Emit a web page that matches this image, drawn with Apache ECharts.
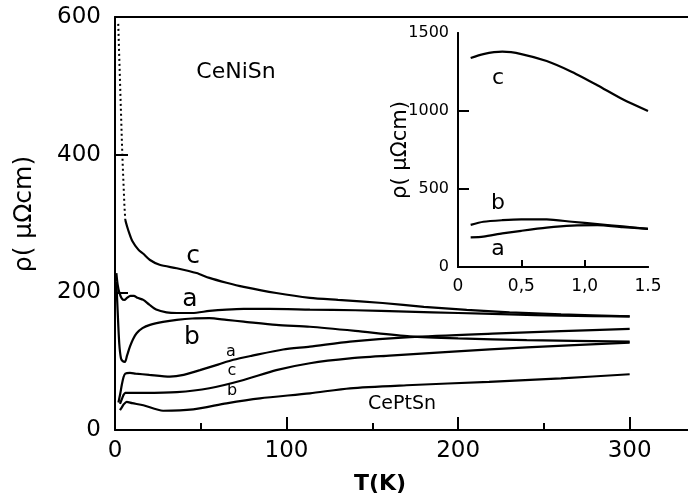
<!DOCTYPE html>
<html>
<head>
<meta charset="utf-8">
<script src="https://cdn.jsdelivr.net/npm/echarts@6/dist/echarts.min.js"></script>
<style>html,body{margin:0;padding:0;background:#fff}#c{width:688px;height:500px}</style>
</head>
<body>
<div id="c"></div>
<script>
// ---- Main panel data: T (K) and resistivity (µΩcm) ----
var cSpikeT = [1.9, 2.5, 3, 3.5, 4, 4.5, 5, 5.5, 6];
var cSpikeR = [590, 540, 500, 460, 420, 385, 355, 325, 305];

var niCT = [6, 7, 8.3, 10, 13.6, 16.5, 20.4, 26, 36, 47.5, 55, 65, 75, 94, 113.6, 130, 156, 180, 205, 230, 260, 300];
var niCR = [305, 296, 286, 275, 262, 256, 247, 240, 235, 228, 221, 214, 208, 199, 192, 189, 184.5, 179, 174.5, 171, 168, 165];

var niAT = [0.8, 1.5, 2.5, 4, 5.5, 7, 9, 11, 13, 16.5, 20, 24, 30, 36, 45, 55, 65, 75, 90, 113.6, 140, 170, 200, 230, 260, 300];
var niAR = [228, 212, 200, 191, 189, 192, 195, 195, 192, 189, 182, 175, 171, 170, 170, 173, 175, 176, 176, 175, 174, 172, 170, 168, 166, 165];

var niBT = [0.8, 1.5, 2.5, 3.5, 4.5, 5.8, 7, 8.7, 10.5, 12.6, 16, 20.4, 28, 36, 45, 55, 65, 75, 94, 113.6, 140, 171.8, 200, 240, 300];
var niBR = [215, 175, 125, 104, 100, 99, 108, 121, 132, 140.6, 148, 152.7, 157, 160, 162, 162.4, 160, 157.5, 152.7, 150, 144, 136, 133, 130.5, 128.5];

var ptAT = [2, 3, 4, 5, 6, 8.7, 12, 20, 32, 40, 49.5, 60, 69, 80, 98, 113.6, 137, 172, 220, 260, 300];
var ptAR = [40, 52, 66, 77, 82, 83, 82, 80, 77.5, 80, 87, 95, 102, 108, 117, 121, 128.5, 135, 140, 143.5, 147];

var ptCT = [2.9, 4, 5, 6, 8, 16.5, 36, 55, 75, 94, 113.6, 137, 160, 197, 240, 300];
var ptCR = [38, 45, 51, 54, 54, 54, 55, 60.6, 72.7, 87, 97, 104, 108, 114, 120, 127];

var ptBT = [2.9, 4, 5, 6.8, 10, 16.5, 28, 45.6, 65, 84.5, 113.6, 137, 170, 218, 260, 300];
var ptBR = [29, 33, 37, 41, 39, 36, 28, 30, 38.8, 46, 53.3, 60.6, 65, 70, 75, 81];

// ---- Inset data: x and resistivity ----
var insetX = [0.1, 0.2, 0.35, 0.5, 0.7, 0.9, 1.1, 1.3, 1.5];
var insetC = [1340, 1365, 1380, 1365, 1320, 1250, 1165, 1075, 1000];
var insetB = [270, 290, 300, 305, 305, 290, 275, 260, 245];
var insetA = [190, 195, 215, 232, 252, 265, 268, 255, 245];

// ---- Tick values / labels ----
var mainXTicks = [0, 100, 200, 300];
var mainXMinorTicks = [50, 150, 250];
var mainYTicks = [0, 200, 400, 600];
var insetXTicks = [0, 0.5, 1, 1.5];
var insetXTickLabels = ['0', '0,5', '1,0', '1.5'];
var insetYTicks = [0, 500, 1000, 1500];

function zip(a, b) { return a.map(function (v, i) { return [v, b[i]]; }); }

var FONT = 'DejaVu Sans';
var chart = echarts.init(document.getElementById('c'), null, {renderer: 'canvas'});

function lineSeries(x, y, data, extra) {
  var s = {
    type: 'line', xAxisIndex: x, yAxisIndex: y, data: data, showSymbol: false, symbol: 'none',
    smooth: 0.25, lineStyle: {color: '#000', width: 2.2}, silent: true, animation: false, z: 5
  };
  if (extra) for (var k in extra) s[k] = extra[k];
  return s;
}
function txt(x, y, t, size, extra) {
  var st = {text: t, font: (extra && extra.bold ? 'bold ' : '') + size + 'px "DejaVu Sans"', fill: '#000',
    align: 'center', verticalAlign: 'middle', textAlign: 'center', textVerticalAlign: 'middle'};
  var g = {type: 'text', x: x, y: y, z: 30, silent: true, style: st};
  if (extra && extra.rot) g.rotation = extra.rot;
  return g;
}
function plain(v) { return String(v); }
var blackLine = {show: true, lineStyle: {color: '#000', width: 2}};

var option = {
  backgroundColor: '#fff',
  animation: false,
  grid: [
    {left: 115, top: 17, right: 0, height: 413, containLabel: false},
    {left: 458, top: 33, width: 190, height: 234, containLabel: false}
  ],
  xAxis: [
    {
      gridIndex: 0, type: 'value', min: 0, max: 334, z: 10,
      axisLine: blackLine,
      axisTick: {show: true, inside: true, length: 13, customValues: mainXTicks, lineStyle: {color: '#000', width: 2}},
      splitLine: {show: false},
      axisLabel: {fontFamily: FONT, fontSize: 23, color: '#000', margin: 10, customValues: mainXTicks, formatter: plain}
    },
    {
      gridIndex: 0, type: 'value', min: 0, max: 334, position: 'top', z: 10,
      axisLine: blackLine,
      axisTick: {show: false}, axisLabel: {show: false}, splitLine: {show: false}
    },
    {
      gridIndex: 0, type: 'value', min: 0, max: 334, position: 'bottom', offset: 0, z: 10,
      axisLine: {show: false},
      axisTick: {show: true, inside: true, length: 7, customValues: mainXMinorTicks, lineStyle: {color: '#000', width: 2}},
      axisLabel: {show: false}, splitLine: {show: false}
    },
    {
      gridIndex: 1, type: 'value', min: 0, max: 1.5, z: 10,
      axisLine: blackLine,
      axisTick: {show: true, inside: true, length: 7, customValues: [0.5, 1], lineStyle: {color: '#000', width: 2}},
      splitLine: {show: false},
      axisLabel: {
        fontFamily: FONT, fontSize: 17, color: '#000', margin: 11, customValues: insetXTicks,
        formatter: function (v) {
          for (var i = 0; i < insetXTicks.length; i++) if (Math.abs(insetXTicks[i] - v) < 1e-6) return insetXTickLabels[i];
          return '';
        }
      }
    },
    {
      gridIndex: 1, type: 'value', min: 0, max: 1.5, position: 'top', z: 10,
      axisLine: blackLine,
      axisTick: {show: false}, axisLabel: {show: false}, splitLine: {show: false}
    }
  ],
  yAxis: [
    {
      gridIndex: 0, type: 'value', min: 0, max: 600, interval: 200, z: 10,
      axisLine: blackLine,
      axisTick: {show: true, inside: true, length: 13, lineStyle: {color: '#000', width: 2}},
      splitLine: {show: false},
      axisLabel: {fontFamily: FONT, fontSize: 23, color: '#000', margin: 14, customValues: mainYTicks, formatter: plain}
    },
    {
      gridIndex: 1, type: 'value', min: 0, max: 1500, interval: 500, z: 10,
      axisLine: blackLine,
      axisTick: {show: true, inside: true, length: 11, customValues: [500, 1000], lineStyle: {color: '#000', width: 2}},
      splitLine: {show: false},
      axisLabel: {fontFamily: FONT, fontSize: 16, color: '#000', margin: 9, customValues: insetYTicks, formatter: plain}
    },
    {
      gridIndex: 1, type: 'value', min: 0, max: 1500, position: 'right', z: 10,
      axisLine: blackLine,
      axisTick: {show: false}, axisLabel: {show: false}, splitLine: {show: false}
    }
  ],
  series: [
    lineSeries(0, 0, zip(cSpikeT, cSpikeR), {smooth: false, lineStyle: {color: '#000', width: 2, type: [2, 3]}}),
    lineSeries(0, 0, zip(niCT, niCR)),
    lineSeries(0, 0, zip(niAT, niAR)),
    lineSeries(0, 0, zip(niBT, niBR)),
    lineSeries(0, 0, zip(ptAT, ptAR)),
    lineSeries(0, 0, zip(ptCT, ptCR)),
    lineSeries(0, 0, zip(ptBT, ptBR)),
    lineSeries(3, 1, zip(insetX, insetC)),
    lineSeries(3, 1, zip(insetX, insetB)),
    lineSeries(3, 1, zip(insetX, insetA))
  ],
  graphic: [
    txt(24, 214, 'ρ( μΩcm)', 25, {rot: Math.PI / 2}),
    txt(401, 150, 'ρ( μΩcm)', 21, {rot: Math.PI / 2}),
    txt(380, 484, 'T(K)', 22, {bold: true}),
    txt(236, 72, 'CeNiSn', 22),
    txt(402, 404, 'CePtSn', 19),
    txt(193, 256, 'c', 25),
    txt(190, 299, 'a', 25),
    txt(192, 337, 'b', 25),
    txt(231, 352, 'a', 16),
    txt(232, 371, 'c', 16),
    txt(232, 391, 'b', 16),
    txt(498, 78, 'c', 22),
    txt(498, 203, 'b', 22),
    txt(498, 249, 'a', 22)
  ]
};
chart.setOption(option);
</script>
</body>
</html>
